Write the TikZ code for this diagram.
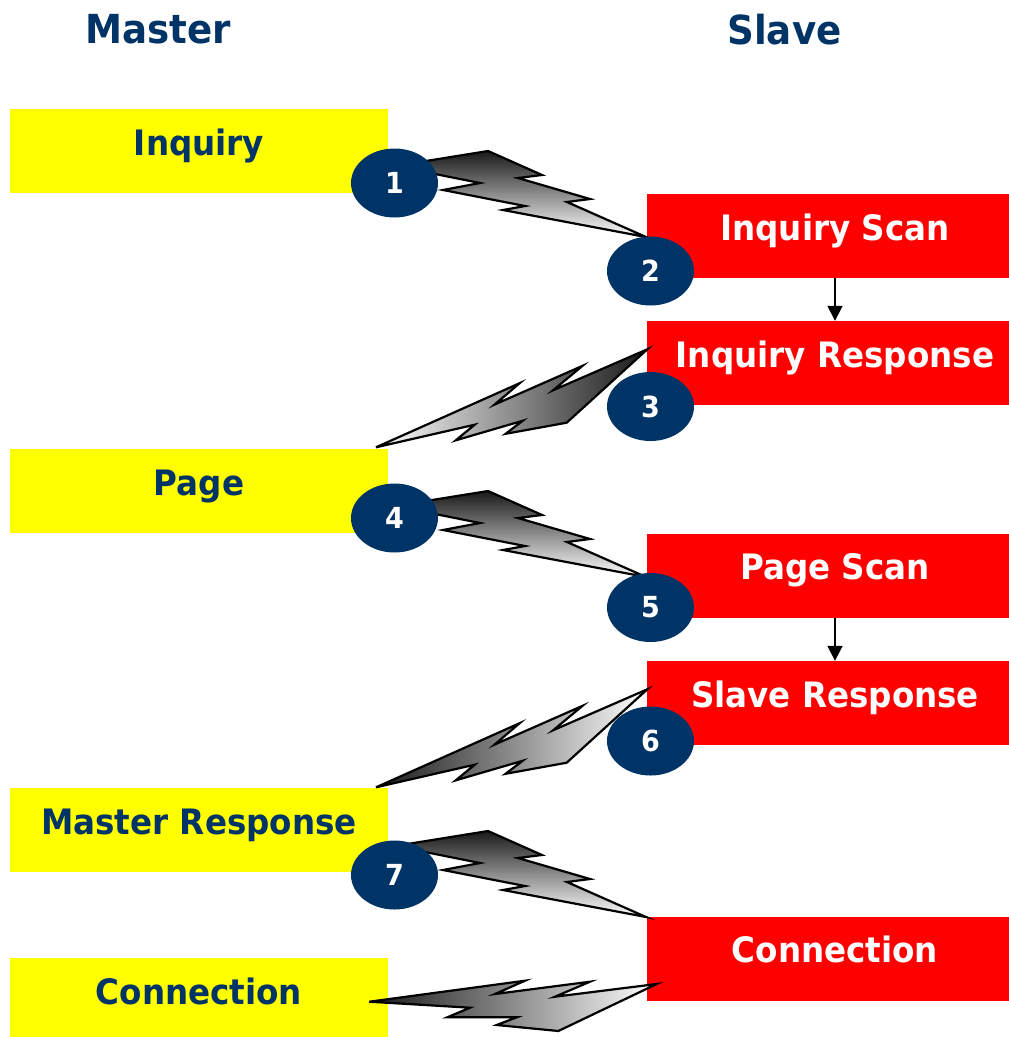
\documentclass[tikz,border=0pt]{standalone}
\usepackage{fontspec}
\setmainfont{DejaVu Sans}[FakeStretch=0.93]
\usetikzlibrary{arrows.meta,shapes.geometric}
\definecolor{navy}{RGB}{0,51,102}
\definecolor{mastercol}{RGB}{255,255,0}
\definecolor{slavecol}{RGB}{255,0,0}
\tikzset{
  title/.style={text=navy, font=\fontsize{40}{48}\selectfont\bfseries},
  mbox/.style={fill=mastercol, inner sep=0pt, minimum width=378pt, text height=46pt, text depth=38pt, text=navy, font=\fontsize{35}{42}\selectfont\bfseries},
  sbox/.style={mbox, fill=slavecol, minimum width=376pt, text=white},
  num/.style={ellipse, fill=navy, minimum width=87pt, minimum height=69pt, inner sep=0pt, text=white, font=\fontsize{29}{32}\selectfont\bfseries},
  bolt/.style={draw=black, line width=2.2pt, line join=miter},
  flow/.style={draw=black, line width=1.8pt, -{Triangle[length=15pt,width=15pt]}}
}
\begin{document}
\begin{tikzpicture}[x=1pt,y=-1pt]
\useasboundingbox (0,0) rectangle (1009,1037);
\node[title] (master) at (158.5,29.5) {Master};
\node[title] (slave) at (784.5,29.5) {Slave};
% master side
\node[mbox] (inq) at (199,151) {Inquiry};
\node[mbox] (page) at (199,491) {Page};
\node[mbox] (mresp) at (199,830) {Master Response};
\node[mbox] (mconn) at (199,1000) {Connection};
% slave side
\node[sbox] (iscan) at (835,236) {Inquiry Scan};
\node[sbox] (iresp) at (835,363) {Inquiry Response};
\node[sbox] (pscan) at (835,575.5) {Page Scan};
\node[sbox] (sresp) at (835,703) {Slave Response};
\node[sbox] (sconn) at (835,958.5) {Connection};
\draw[flow] (iscan) -- (iresp);
\draw[flow] (pscan) -- (sresp);
% bolts master -> slave
\foreach \dy in {0,340,680}
  \draw[bolt, top color=black!90, bottom color=white, shift={(0,\dy)}]
    (488,151) -- (542,175) -- (518,178) -- (590,199) -- (567,202) -- (646,237)
    -- (503,210) -- (525,206) -- (443,190) -- (480,183) -- (395,166) -- cycle;
% bolts slave -> master
\foreach \dy/\lc/\rc in {0/white/black!90, 340/black!90/white}
  \draw[bolt, left color=\lc, right color=\rc, shift={(0,\dy)}]
    (376,447.3) -- (519.6,383.2) -- (494.7,404.5) -- (582.4,365.9) -- (553.2,390.2) -- (647.3,349.3)
    -- (566.7,422.7) -- (505.6,433.8) -- (522.6,420.8) -- (455.8,440.3) -- (474.7,424.7) -- cycle;
\draw[bolt, left color=black!90, right color=white]
  (369.3,1001.7) -- (525,980.7) -- (495,994) -- (590,981.7) -- (555,996.7) -- (656.7,984)
  -- (558.3,1031) -- (496.7,1025) -- (516.7,1017.3) -- (447.3,1017.3) -- (470,1007.7) -- cycle;
% steps
\node[num] (n1) at (394.5,183) {1};
\node[num] (n2) at (650.5,271) {2};
\node[num] (n3) at (650.5,406.5) {3};
\node[num] (n4) at (394.5,518) {4};
\node[num] (n5) at (650.5,607.5) {5};
\node[num] (n6) at (650.5,741) {6};
\node[num] (n7) at (394.5,875) {7};
\end{tikzpicture}
\end{document}
